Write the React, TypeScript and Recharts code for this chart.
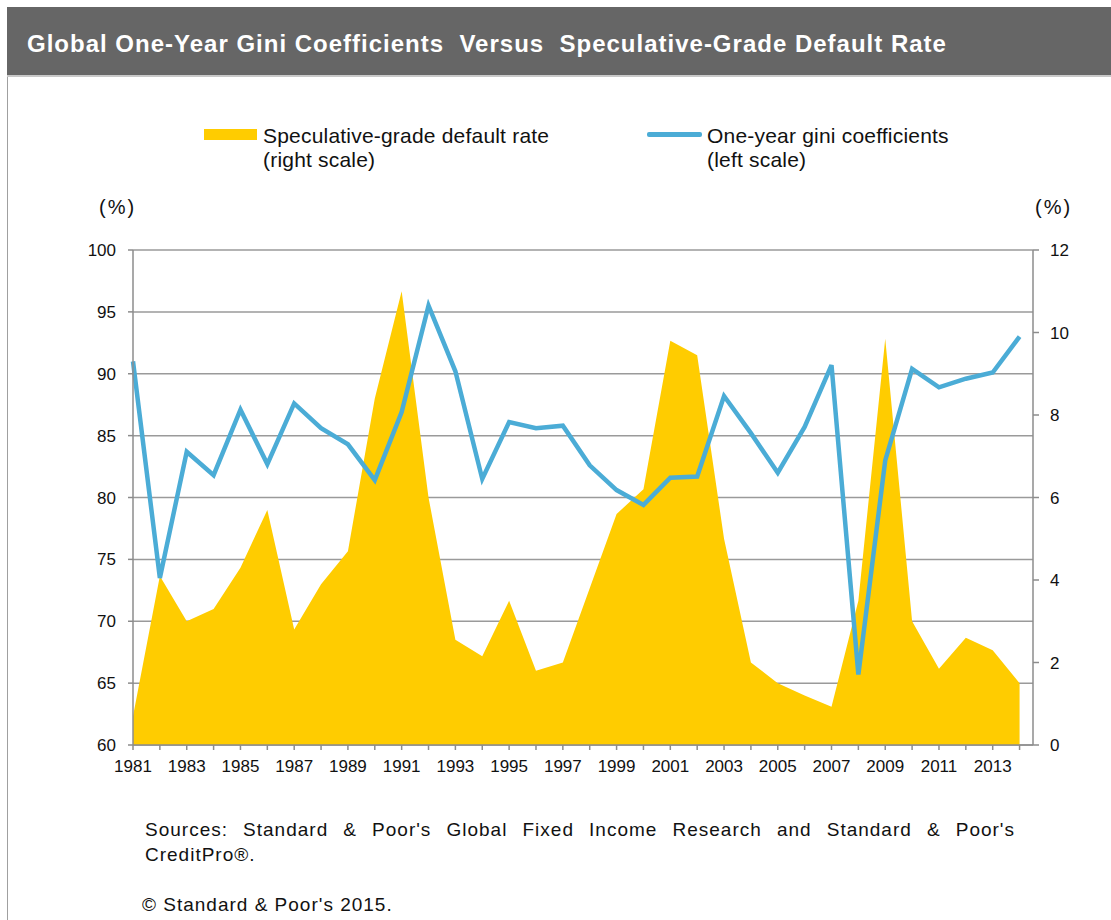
import React from 'react';
import { ComposedChart, Area, Line, XAxis, YAxis, CartesianGrid } from 'recharts';

const years = [
  1981, 1982, 1983, 1984, 1985, 1986, 1987, 1988, 1989, 1990, 1991, 1992,
  1993, 1994, 1995, 1996, 1997, 1998, 1999, 2000, 2001, 2002, 2003, 2004,
  2005, 2006, 2007, 2008, 2009, 2010, 2011, 2012, 2013, 2014,
];

// left scale (%)
const giniCoefficients = [
  91.0, 73.5, 83.7, 81.8, 87.1, 82.7, 87.6, 85.6, 84.3, 81.4, 86.9, 95.5,
  90.2, 81.5, 86.1, 85.6, 85.8, 82.6, 80.6, 79.4, 81.6, 81.7, 88.2, 85.2,
  82.0, 85.7, 90.7, 65.7, 83.0, 90.4, 88.9, 89.6, 90.1, 93.0,
];

// right scale (%)
const defaultRates = [
  0.7, 4.1, 3.0, 3.3, 4.3, 5.7, 2.8, 3.9, 4.7, 8.4, 11.0, 6.0,
  2.55, 2.15, 3.5, 1.8, 2.0, 3.8, 5.6, 6.2, 9.8, 9.45, 5.0, 2.0,
  1.5, 1.2, 0.93, 3.5, 9.85, 3.0, 1.85, 2.6, 2.3, 1.5,
];

const leftTicks = [60, 65, 70, 75, 80, 85, 90, 95, 100];
const rightTicks = [0, 2, 4, 6, 8, 10, 12];

const data = years.map((year, i) => ({
  year,
  gini: giniCoefficients[i],
  rate: defaultRates[i],
}));

const FONT = '"Liberation Sans", Arial, sans-serif';
const YELLOW = '#FFCC00';
const BLUE = '#4BACD6';
const AXIS = '#8c8c8c';

const tickStyle = { fill: '#111', fontSize: 17, fontFamily: FONT };

export default function App() {
  return (
    <div
      style={{
        position: 'absolute',
        left: 0,
        top: 0,
        width: 1111,
        height: 920,
        background: '#fff',
        fontFamily: FONT,
        color: '#111',
        overflow: 'hidden',
      }}
    >
      {/* header band */}
      <div
        style={{
          position: 'absolute',
          left: 7,
          top: 7,
          width: 1104,
          height: 68,
          background: '#666666',
          borderBottom: '2px solid #c8c8c8',
        }}
      >
        <div
          style={{
            position: 'absolute',
            left: 20,
            top: 23,
            color: '#fff',
            fontWeight: 700,
            fontSize: 24,
            letterSpacing: 1,
            whiteSpace: 'pre',
          }}
        >
          {'Global One-Year Gini Coefficients  Versus  Speculative-Grade Default Rate'}
        </div>
      </div>
      <div style={{ position: 'absolute', left: 7, top: 77, width: 1, height: 843, background: '#a0a0a0' }} />

      {/* legend */}
      <div style={{ position: 'absolute', left: 204, top: 129, width: 53, height: 11, background: YELLOW }} />
      <div style={{ position: 'absolute', left: 263, top: 124, fontSize: 21, lineHeight: '24px', letterSpacing: 0.2 }}>
        Speculative-grade default rate
        <br />
        (right scale)
      </div>
      <div style={{ position: 'absolute', left: 647, top: 132, width: 55, height: 5, background: BLUE, borderRadius: 2 }} />
      <div style={{ position: 'absolute', left: 707, top: 124, fontSize: 21, lineHeight: '24px', letterSpacing: 0.2 }}>
        One-year gini coefficients
        <br />
        (left scale)
      </div>

      {/* unit labels */}
      <div style={{ position: 'absolute', left: 99, top: 196, fontSize: 20, letterSpacing: 2 }}>(%)</div>
      <div style={{ position: 'absolute', left: 1035, top: 196, fontSize: 20, letterSpacing: 2 }}>(%)</div>

      <div style={{ position: 'absolute', left: 0, top: 0 }}>
        <ComposedChart
          width={1111}
          height={800}
          data={data}
          margin={{ top: 250, right: 18, bottom: 25, left: 73 }}
        >
          <CartesianGrid
            yAxisId="left"
            vertical={false}
            stroke="#9a9a9a"
            strokeWidth={1.5}
          />
          <XAxis
            dataKey="year"
            type="number"
            domain={[1981, 2014.5]}
            ticks={years}
            interval={0}
            tickFormatter={(y: number) => (y % 2 === 1 ? String(y) : '')}
            tick={tickStyle}
            tickSize={5}
            tickMargin={10}
            height={30}
            axisLine={{ stroke: AXIS, strokeWidth: 1.5 }}
            tickLine={{ stroke: AXIS, strokeWidth: 1.5 }}
          />
          <YAxis
            yAxisId="left"
            orientation="left"
            domain={[60, 100]}
            ticks={leftTicks}
            interval={0}
            width={60}
            tick={tickStyle}
            tickSize={5}
            tickMargin={12}
            axisLine={{ stroke: AXIS, strokeWidth: 1.5 }}
            tickLine={{ stroke: AXIS, strokeWidth: 1.5 }}
          />
          <YAxis
            yAxisId="right"
            orientation="right"
            domain={[0, 12]}
            ticks={rightTicks}
            interval={0}
            width={60}
            tick={{ ...tickStyle, textAnchor: 'start' }}
            tickSize={6}
            tickMargin={11}
            axisLine={{ stroke: AXIS, strokeWidth: 1.5 }}
            tickLine={{ stroke: AXIS, strokeWidth: 1.5 }}
          />
          <Area
            yAxisId="right"
            dataKey="rate"
            type="linear"
            fill={YELLOW}
            fillOpacity={1}
            stroke="none"
            isAnimationActive={false}
          />
          <Line
            yAxisId="left"
            dataKey="gini"
            type="linear"
            stroke={BLUE}
            strokeWidth={4.5}
            dot={false}
            isAnimationActive={false}
          />
        </ComposedChart>
      </div>

      {/* footer */}
      <div style={{ position: 'absolute', left: 145, top: 817, width: 870, fontSize: 19, lineHeight: '25px', letterSpacing: 1 }}>
        <div style={{ textAlign: 'justify', textAlignLast: 'justify' }}>
          {"Sources: Standard & Poor's Global Fixed Income Research and Standard & Poor's"}
        </div>
        <div>CreditPro®.</div>
      </div>
      <div style={{ position: 'absolute', left: 142, top: 894, fontSize: 19, letterSpacing: 1 }}>
        © Standard &amp; Poor's 2015.
      </div>
    </div>
  );
}
